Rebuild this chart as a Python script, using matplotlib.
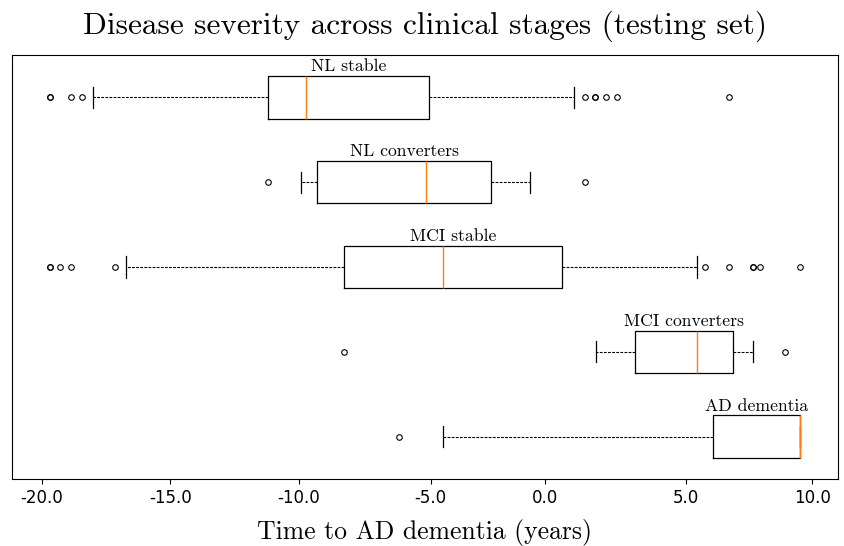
import matplotlib
matplotlib.use("Agg")
from matplotlib import pyplot as plt

# five clinical groups, top to bottom
groups = ["NL stable", "NL converters", "MCI stable", "MCI converters", "AD dementia"]

whislo = [-18.01, -9.93, -16.73, 1.57, -4.40]
q1 = [-11.21, -9.29, -8.24, 3.08, 6.15]
med = [-9.71, -5.03, -4.40, 5.53, 9.54]
q3 = [-4.93, -2.50, 0.27, 6.91, 9.54]
whishi = [0.70, -1.00, 5.53, 7.68, 9.54]

fliers = [
    [-19.71, -19.71, -18.86, -18.44, 1.13, 1.55, 1.55, 1.98, 2.41, 6.76],
    [-11.21, 1.13],
    [-19.71, -19.71, -19.29, -18.86, -17.16, 5.84, 6.76, 7.70, 7.70, 7.96, 9.54],
    [-8.24, 8.92],
    [-6.11],
]

tick_pos = [-20, -15, -10, -4.87, -0.4, 5.07, 10]
tick_labels = ["-20.0", "-15.0", "-10.0", "-5.0", "0.0", "5.0", "10.0"]

serif = {"family": "cmr10"}

stats = []
for i in range(len(groups)):
    stats.append({
        "label": groups[i],
        "whislo": whislo[i], "q1": q1[i], "med": med[i],
        "q3": q3[i], "whishi": whishi[i], "fliers": fliers[i],
    })

fig = plt.figure(figsize=(8.45, 5.46), dpi=100)
ax = fig.add_axes([0.0142, 0.1227, 0.9775, 0.7766])

positions = list(range(len(groups), 0, -1))
ax.bxp(stats, positions=positions, vert=False, widths=0.5,
       boxprops={"color": "black", "linewidth": 0.9},
       whiskerprops={"color": "black", "linewidth": 0.8, "linestyle": (0, (2.5, 1.2))},
       capprops={"color": "black", "linewidth": 0.9},
       medianprops={"color": "#ff7f0e", "linewidth": 1.0},
       flierprops={"marker": "o", "markersize": 4, "markerfacecolor": "none",
                   "markeredgecolor": "black", "markeredgewidth": 0.8})

for i, name in enumerate(groups):
    ax.text((q1[i] + q3[i]) / 2, positions[i] + 0.27, name, fontdict=serif,
            fontsize=12.7, ha="center", va="bottom")

ax.set_ylim(0.5, 5.5)
ax.set_yticks([])
ax.set_xticks(tick_pos)
ax.set_xticklabels(tick_labels, fontsize=12)
ax.set_xlabel("Time to AD dementia (years)", fontdict=serif, fontsize=18.5, labelpad=9)
ax.set_title("Disease severity across clinical stages (testing set)", fontdict=serif,
             fontsize=22.5, pad=15)

fig.savefig("out.png", dpi=100)
